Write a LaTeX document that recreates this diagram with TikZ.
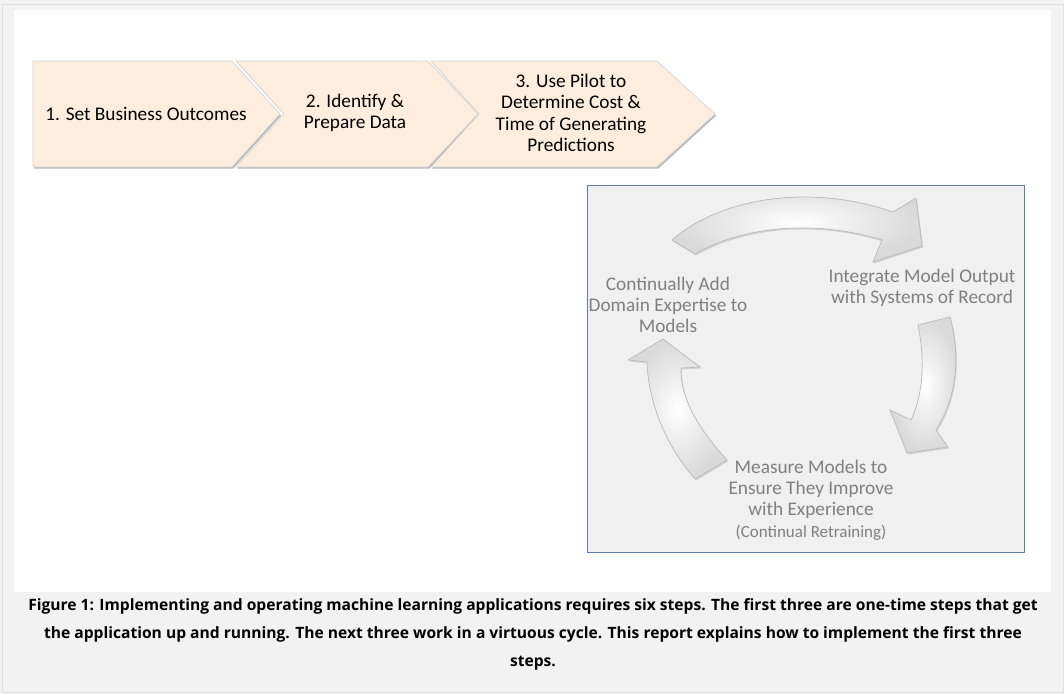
\documentclass[tikz,border=0pt]{standalone}
\usepackage{fontspec}
\setmainfont{Carlito}
\newfontfamily\capfont{Open Sans}
\usepackage{tikz}
\usetikzlibrary{positioning,shadings}

\definecolor{peach}{RGB}{253,237,222}
\definecolor{pagegray}{RGB}{242,242,242}
\definecolor{cyclegray}{RGB}{128,128,128}
\definecolor{cyclefill}{RGB}{240,240,240}
\definecolor{boxblue}{RGB}{95,122,172}

\begin{document}
\begin{tikzpicture}[x=1pt,y=-1pt,
    steptext/.style={align=center,font=\fontsize{19.3}{21.3}\selectfont,text=black},
    cycletext/.style={align=center,font=\fontsize{19.3}{21.3}\selectfont,text=cyclegray},
    chevron/.style={fill=peach,draw=gray!35,line width=0.6pt,
                    preaction={fill=gray!55,transform canvas={shift={(1.2pt,-1.6pt)}}}},
    cyclearrow/.style={draw=gray!55,line width=0.7pt,inner color=white,outer color=gray!30,
                 preaction={fill=gray!35,transform canvas={shift={(1pt,-1.5pt)}}}}]
  \useasboundingbox (0,0) rectangle (1064,694);
  \fill[pagegray] (0,0) rectangle (1064,694);
  \draw[gray!25,line width=1pt] (2,4) rectangle (1063,692);
  \fill[white] (14,10) rectangle (1051,592);

  \draw[chevron] (33,61) -- (232,61) -- (280,114) -- (232,167) -- (33,167) -- cycle;
  \draw[chevron] (236,61) -- (428,61) -- (478,114) -- (428,167) -- (236,167) -- (284,114) -- cycle;
  \draw[chevron] (431,61) -- (657,61) -- (715,114) -- (657,167) -- (431,167) -- (479,114) -- cycle;
  \node (s1) at (146,114) [steptext] {1. Set Business Outcomes};
  \node (s2) at (355,113) [steptext] {2. Identify \&\\Prepare Data};
  \node (s3) at (571,113) [steptext] {3. Use Pilot to\\Determine Cost \&\\Time of Generating\\Predictions};

  \draw[boxblue,fill=cyclefill,line width=0.8pt] (587,185) rectangle (1024,552);
  \draw[cyclearrow] (672,240) .. controls (720,198) and (810,183) .. (893,212) -- (916,198) -- (922,246)
              -- (873,262) -- (882,240) .. controls (810,218) and (740,228) .. (695,254) -- cycle;
  \draw[cyclearrow] (950,317) .. controls (960,355) and (958,395) .. (936,430) -- (948,447) -- (907,453)
              -- (890,410) -- (911,420) .. controls (925,390) and (924,355) .. (918,325) -- cycle;
  \draw[cyclearrow] (727,460) .. controls (700,430) and (680,400) .. (681,368) -- (700,367) -- (663,339)
              -- (628,360) -- (647,362) .. controls (648,400) and (665,445) .. (695,479) -- cycle;
  \node (c1) at (668,305) [cycletext] {Continually Add\\Domain Expertise to\\Models};
  \node (c2) at (922,288) [cycletext] {Integrate Model Output\\with Systems of Record};
  \node (c3) at (811,500) [cycletext] {Measure Models to\\Ensure They Improve\\with Experience\\
                                      {\fontsize{17}{21}\selectfont(Continual Retraining)}};

  \node (cap) at (533,634) [align=center,font=\capfont\bfseries\fontsize{15.6}{28}\selectfont]
    {Figure 1: Implementing and operating machine learning applications requires six steps. The first three are one-time steps that get\\
     the application up and running. The next three work in a virtuous cycle. This report explains how to implement the first three\\
     steps.};
\end{tikzpicture}
\end{document}
